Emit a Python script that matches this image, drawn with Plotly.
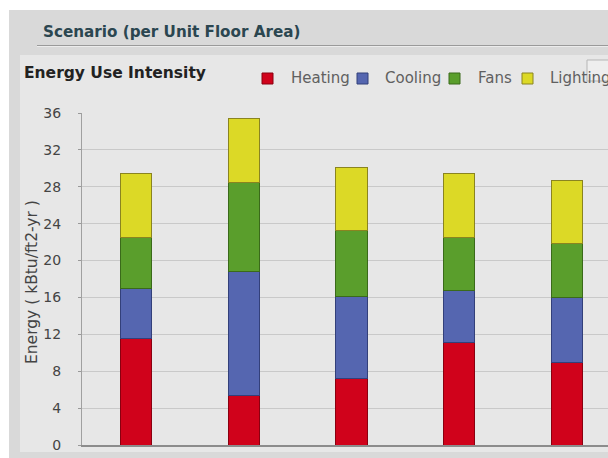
import plotly.graph_objects as go

W, H = 608, 458

scenarios = ["Scenario 1", "Scenario 2", "Scenario 3", "Scenario 4", "Scenario 5"]
heating = [11.5, 5.35, 7.2, 11.1, 8.9]
cooling = [5.45, 13.45, 8.95, 5.7, 7.05]
fans = [5.6, 9.65, 7.1, 5.7, 5.9]
lighting = [6.9, 7.0, 6.85, 6.95, 6.85]

series = [
    ("Heating", heating, "#d0021b", "#8a0010"),
    ("Cooling", cooling, "#5566b0", "#33407a"),
    ("Fans", fans, "#5a9e2c", "#3a6a1a"),
    ("Lighting", lighting, "#dcd926", "#8a8420"),
]

y_ticks = [0, 4, 8, 12, 16, 20, 24, 28, 32, 36]

fig = go.Figure()
for name, vals, col, edge in series:
    fig.add_trace(go.Bar(
        x=scenarios, y=vals, name=name,
        marker=dict(color=col, line=dict(color=edge, width=1)),
        width=0.29, showlegend=False,
    ))

def px(x):
    return x / W

def py(y):
    return 1 - y / H

shapes = [
    dict(type="rect", xref="paper", yref="paper", x0=px(9), x1=px(W), y0=py(H), y1=py(10),
         fillcolor="#d9d9d9", line=dict(width=0), layer="below"),
    dict(type="rect", xref="paper", yref="paper", x0=px(20), x1=px(W), y0=py(452), y1=py(55),
         fillcolor="#e7e7e7", line=dict(width=0), layer="below"),
    dict(type="line", xref="paper", yref="paper", x0=px(37), x1=px(W), y0=py(45.5), y1=py(45.5),
         line=dict(color="#9a9a9a", width=1), layer="below"),
    dict(type="line", xref="paper", yref="paper", x0=px(37), x1=px(W), y0=py(46.5), y1=py(46.5),
         line=dict(color="#ececec", width=1), layer="below"),
    dict(type="rect", xref="paper", yref="paper", x0=px(587), x1=px(W + 2), y0=py(81), y1=py(60),
         fillcolor="rgba(240,240,240,0.75)", line=dict(color="#b5b5b5", width=1), layer="above"),
]

legend_items = [
    ("Heating", 262, 289, "#d0021b", "#8a0010"),
    ("Cooling", 357, 383, "#5566b0", "#33407a"),
    ("Fans", 449, 476, "#5a9e2c", "#3a6a1a"),
    ("Lighting", 522, 548, "#dcd926", "#8a8420"),
]
annotations = [
    dict(text="<b>Scenario (per Unit Floor Area)</b>", xref="paper", yref="paper",
         x=px(41), y=py(32), xanchor="left", yanchor="middle", showarrow=False,
         font=dict(family="DejaVu Sans", size=15.2, color="#2b4650")),
    dict(text="<b>Energy Use Intensity</b>", xref="paper", yref="paper",
         x=px(22), y=py(73), xanchor="left", yanchor="middle", showarrow=False,
         font=dict(family="DejaVu Sans", size=15.5, color="#222222")),
    dict(text="Energy ( kBtu/ft2-yr )", xref="paper", yref="paper",
         x=px(32), y=py(282), xanchor="center", yanchor="middle", showarrow=False,
         textangle=-90,
         font=dict(family="DejaVu Sans", size=15.5, color="#444444")),
]
for name, sx, tx, col, edge in legend_items:
    shapes.append(dict(type="rect", xref="paper", yref="paper", x0=px(sx), x1=px(sx + 11),
                       y0=py(84), y1=py(73), fillcolor=col, line=dict(color=edge, width=1),
                       layer="below"))
    annotations.append(dict(text=name, xref="paper", yref="paper", x=px(tx), y=py(78),
                            xanchor="left", yanchor="middle", showarrow=False,
                            font=dict(family="DejaVu Sans", size=15, color="#606060")))

fig.update_layout(
    width=W, height=H,
    margin=dict(l=0, r=0, t=0, b=0),
    paper_bgcolor="#ffffff",
    plot_bgcolor="#ededed",
    barmode="stack",
    shapes=shapes,
    annotations=annotations,
    xaxis=dict(
        domain=[px(82), 1],
        range=[-0.5, -0.5 + (W - 82) / 107.75],
        showticklabels=False, ticks="", showgrid=False, zeroline=False,
        showline=True, linecolor="#8c8c8c", linewidth=2,
        fixedrange=True, automargin=False,
    ),
    yaxis=dict(
        domain=[1 - 445 / H, 1 - 113 / H],
        range=[0, 36], tickvals=y_ticks,
        ticks="outside", ticklen=3, tickcolor="#999999",
        ticklabelstandoff=14,
        tickfont=dict(family="DejaVu Sans", size=14, color="#444444"),
        showgrid=True, gridcolor="#c9c9c9", gridwidth=1,
        zeroline=False, showline=True, linecolor="#a0a0a0", linewidth=1,
        automargin=False,
    ),
    font=dict(family="DejaVu Sans"),
)

fig.write_html("out.html")
